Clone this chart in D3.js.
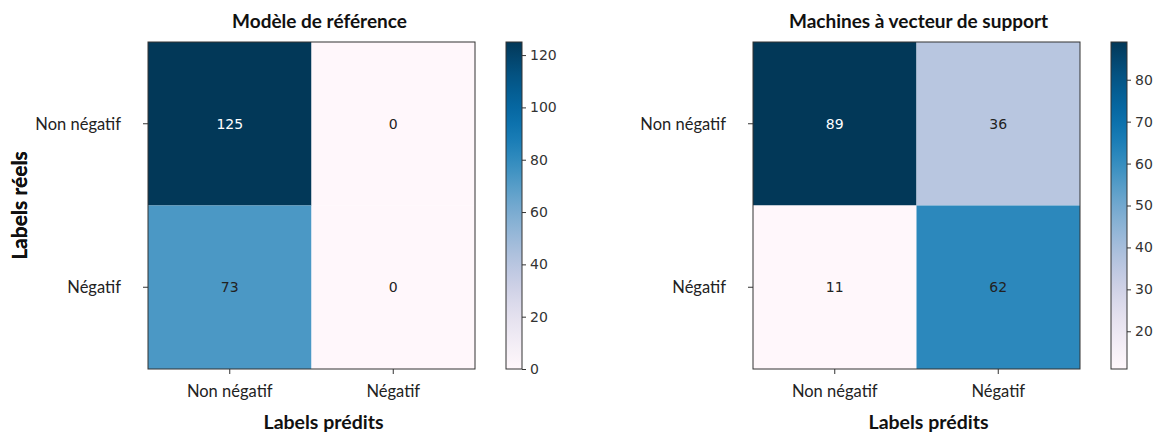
<!DOCTYPE html>
<html>
<head>
<meta charset="utf-8">
<script src="https://cdn.jsdelivr.net/npm/d3@7/dist/d3.min.js"></script>
<style>
  html, body { margin: 0; padding: 0; background: #fff; }
  #chart { width: 1159px; height: 432px; }
  .title { font-family: Lato, 'Open Sans', sans-serif; font-weight: bold; font-size: 19px; fill: #111; }
  .axis-label { font-family: Lato, 'Open Sans', sans-serif; font-weight: bold; font-size: 19.5px; fill: #111; }
  .ylabel { font-size: 21px; }
  .tick-label { font-family: Lato, 'Open Sans', sans-serif; font-size: 16.5px; fill: #222; }
  .cb-label { font-family: 'DejaVu Sans', sans-serif; font-size: 14px; fill: #333; }
  .cell-text { font-family: 'DejaVu Sans', sans-serif; font-size: 14px; }
</style>
</head>
<body>
<div id="chart"></div>
<script>
'use strict';

// Class labels (rows = real, columns = predicted)
const CLASSES = ['Non négatif', 'Négatif'];

// Confusion matrices
const REF_TITLE = 'Modèle de référence';
const REF_MATRIX = [
  [125, 0],
  [73, 0],
];
const REF_TICKS = [0, 20, 40, 60, 80, 100, 120];

const SVM_TITLE = 'Machines à vecteur de support';
const SVM_MATRIX = [
  [89, 36],
  [11, 62],
];
const SVM_TICKS = [20, 30, 40, 50, 60, 70, 80];

const X_LABEL = 'Labels prédits';
const Y_LABEL = 'Labels réels';

const W = 1159, H = 432;
const SIZE = 327;          // heatmap side
const TOP = 42;
const CB_W = 16;

const svg = d3.select('#chart').append('svg')
  .attr('width', W).attr('height', H);

function drawPanel(left, cbLeft, title, titleDx, matrix, ticks) {
  const flat = matrix.flat();
  const vmin = d3.min(flat), vmax = d3.max(flat);
  const color = d3.scaleSequential(d3.interpolatePuBu).domain([vmin, vmax]);

  const x = d3.scaleBand().domain(CLASSES).range([0, SIZE]);
  const y = d3.scaleBand().domain(CLASSES).range([0, SIZE]);

  const g = svg.append('g').attr('transform', `translate(${left},${TOP})`);

  const cells = [];
  matrix.forEach((row, i) => row.forEach((v, j) => cells.push({ r: CLASSES[i], c: CLASSES[j], v })));

  g.selectAll('rect.cell')
    .data(cells)
    .join('rect')
    .attr('class', 'cell')
    .attr('x', d => x(d.c))
    .attr('y', d => y(d.r))
    .attr('width', x.bandwidth())
    .attr('height', y.bandwidth())
    .attr('fill', d => color(d.v));

  g.selectAll('text.cell-text')
    .data(cells)
    .join('text')
    .attr('class', 'cell-text')
    .attr('x', d => x(d.c) + x.bandwidth() / 2)
    .attr('y', d => y(d.r) + y.bandwidth() / 2)
    .attr('text-anchor', 'middle')
    .attr('dominant-baseline', 'central')
    .attr('fill', d => d.v > vmax * 0.8 ? '#fff' : '#222')
    .text(d => d.v);

  // frame
  g.append('rect')
    .attr('x', 0).attr('y', 0)
    .attr('width', SIZE).attr('height', SIZE)
    .attr('fill', 'none').attr('stroke', '#333').attr('stroke-width', 1);

  // y ticks
  CLASSES.forEach(cl => {
    const cy = y(cl) + y.bandwidth() / 2;
    g.append('line').attr('x1', -5).attr('x2', 0).attr('y1', cy).attr('y2', cy)
      .attr('stroke', '#333');
    g.append('text').attr('class', 'tick-label')
      .attr('x', -27).attr('y', cy)
      .attr('text-anchor', 'end').attr('dominant-baseline', 'central')
      .text(cl);
  });

  // x ticks
  CLASSES.forEach(cl => {
    const cx = x(cl) + x.bandwidth() / 2;
    g.append('line').attr('x1', cx).attr('x2', cx).attr('y1', SIZE).attr('y2', SIZE + 5)
      .attr('stroke', '#333');
    g.append('text').attr('class', 'tick-label')
      .attr('x', cx).attr('y', SIZE + 28)
      .attr('text-anchor', 'middle')
      .text(cl);
  });

  g.append('text').attr('class', 'title')
    .attr('x', SIZE / 2 + titleDx).attr('y', -14)
    .attr('text-anchor', 'middle')
    .text(title);

  g.append('text').attr('class', 'axis-label')
    .attr('x', SIZE / 2 + 12).attr('y', SIZE + 60)
    .attr('text-anchor', 'middle')
    .text(X_LABEL);

  g.append('text').attr('class', 'axis-label ylabel')
    .attr('transform', `translate(${-left + 27},${SIZE / 2}) rotate(-90)`)
    .attr('text-anchor', 'middle')
    .text(Y_LABEL);

  // colorbar
  const cbScale = d3.scaleLinear().domain([vmin, vmax]).range([SIZE, 0]);
  const gradId = 'grad-' + left;
  const grad = svg.append('defs').append('linearGradient')
    .attr('id', gradId)
    .attr('x1', 0).attr('x2', 0).attr('y1', 1).attr('y2', 0);
  d3.range(0, 1.0001, 0.05).forEach(t => {
    grad.append('stop')
      .attr('offset', t)
      .attr('stop-color', color(vmin + t * (vmax - vmin)));
  });

  const cb = svg.append('g').attr('transform', `translate(${cbLeft},${TOP})`);
  cb.append('rect')
    .attr('width', CB_W).attr('height', SIZE)
    .attr('fill', `url(#${gradId})`)
    .attr('stroke', '#333').attr('stroke-width', 1);

  const axis = cb.append('g')
    .attr('transform', `translate(${CB_W},0)`)
    .call(d3.axisRight(cbScale).tickValues(ticks).tickSize(4).tickPadding(4));
  axis.select('.domain').remove();
  axis.selectAll('line').attr('stroke', '#333');
  axis.selectAll('text').attr('class', 'cb-label').attr('fill', null)
    .attr('font-family', null).attr('font-size', null);
}

drawPanel(148, 506, REF_TITLE, 8, REF_MATRIX, REF_TICKS);
drawPanel(753, 1111, SVM_TITLE, 2, SVM_MATRIX, SVM_TICKS);
</script>
</body>
</html>
